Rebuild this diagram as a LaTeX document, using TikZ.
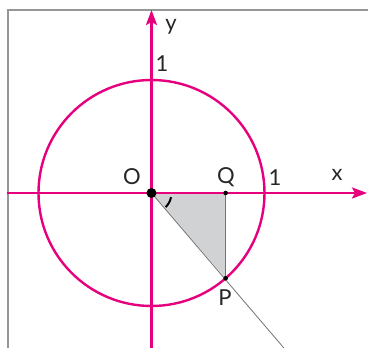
\documentclass[tikz,border=0pt]{standalone}
\usepackage{fontspec}
\setmainfont{Lato}
\usetikzlibrary{arrows.meta}
\definecolor{mag}{RGB}{230,0,126}
\definecolor{trifill}{RGB}{209,210,212}
\definecolor{framegray}{RGB}{150,150,150}
\begin{document}
\begin{tikzpicture}[x=1pt,y=1pt,
  axis/.style={mag,line width=2.4pt,-{Stealth[length=15pt,width=11pt,inset=3pt]}},
  lbl/.style={font=\fontsize{22}{24}\selectfont,inner sep=0pt,text=black!85},
  thinline/.style={draw=black!55,line width=0.8pt}]
\useasboundingbox (-151.5,-155) rectangle (216.5,193);
% frame
\draw[framegray,line width=2pt] (-143.5,-155) -- (-143.5,183) -- (216.5,183);
% points
\coordinate (O) at (0,0);
\coordinate (P) at (-49:113);
\coordinate (Q) at (P |- O);
\coordinate (L) at (-49.5:206);
\coordinate (xl) at (-144.5,0);
\coordinate (xr) at (215.5,0);
\coordinate (yb) at (0,-155);
\coordinate (yt) at (0,183);
% shaded triangle
\fill[trifill] (O) -- (Q) -- (P) -- cycle;
\draw[thinline] (Q) -- (P);
\draw[thinline] (O) -- (L);
% axes and circle
\draw[axis] (xl) -- (xr);
\draw[axis] (yb) -- (yt);
\draw[mag,line width=2.4pt] (O) circle[radius=113];
% angle mark
\draw[black,line width=2pt] (-12:20) arc[start angle=-12,end angle=-45,radius=20];
% dots
\fill[black] (O) circle[radius=5];
\fill[black] (Q) circle[radius=2.3];
\fill[black] (P) circle[radius=2.3];
% labels
\node[lbl] (lO) at (-19.5,16) {O};
\node[lbl] (lQ) at (74.5,16) {Q};
\node[lbl] (l1x) at (123.5,15) {1};
\node[lbl] (lx) at (185.5,18) {x};
\node[lbl] (ly) at (19.5,166) {y};
\node[lbl] (l1y) at (10.5,129) {1};
\node[lbl] (lP) at (73.5,-105) {P};
\end{tikzpicture}
\end{document}
